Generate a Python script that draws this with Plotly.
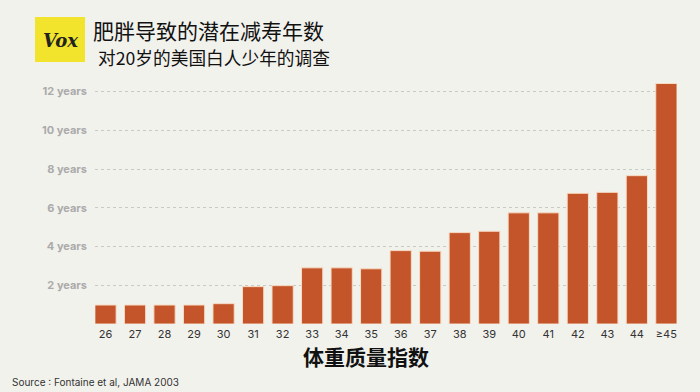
import plotly.graph_objects as go

categories = ["26", "27", "28", "29", "30", "31", "32", "33", "34", "35",
              "36", "37", "38", "39", "40", "41", "42", "43", "44", "≥45"]
years_lost = [0.98, 0.98, 0.98, 0.98, 1.05, 1.93, 1.98, 2.9, 2.9, 2.85,
              3.79, 3.76, 4.72, 4.79, 5.74, 5.74, 6.75, 6.8, 7.66, 12.42]
tick_values = [2, 4, 6, 8, 10, 12]
tick_labels = ["2 years", "4 years", "6 years", "8 years", "10 years", "12 years"]

title_text = "肥胖导致的潜在减寿年数"
subtitle_text = "对20岁的美国白人少年的调查"
xaxis_title = "体重质量指数"
source_text = "Source : Fontaine et al, JAMA 2003"

BG = "#f2f2ed"
BAR = "#c4552a"
W, H = 700, 392
ML, MR, MT, MB = 95, 23, 80, 68

fig = go.Figure()
fig.add_trace(go.Bar(
    x=categories, y=years_lost,
    marker=dict(color=BAR, line=dict(color="#f7dcc4", width=1)),
    width=0.72,
    hoverinfo="x+y",
))

fig.update_layout(
    width=W, height=H,
    margin=dict(l=ML, r=MR, t=MT, b=MB),
    paper_bgcolor=BG, plot_bgcolor=BG,
    showlegend=False,
    font=dict(family="Inter, Roboto, sans-serif"),
    xaxis=dict(
        type="category",
        range=[-0.356, 19.36],
        showgrid=False, zeroline=False, showline=False,
        ticks="", ticklabelstandoff=2,
        tickfont=dict(size=11, color="#333333", family="Inter, sans-serif"),
    ),
    yaxis=dict(
        range=[0, 12.6],
        tickvals=tick_values, ticktext=tick_labels,
        showgrid=True, gridcolor="#cacac5", griddash="dot", gridwidth=1,
        zeroline=False, showline=False, ticks="",
        ticklabelstandoff=7,
        tickfont=dict(size=11, color="#ababab", family="Inter, sans-serif", weight="bold"),
    ),
    shapes=[
        dict(type="rect", xref="paper", yref="paper",
             x0=(35 - ML) / (W - ML - MR), x1=(85 - ML) / (W - ML - MR),
             y0=(H - 62 - MB) / (H - MT - MB), y1=(H - 17 - MB) / (H - MT - MB),
             fillcolor="#f2e42c", line=dict(width=0), layer="above"),
    ],
)

def px_x(p):
    return (p - ML) / (W - ML - MR)

def px_y(p):
    return (H - p - MB) / (H - MT - MB)

annotations = [
    dict(text="<b><i>Vox</i></b>", x=px_x(60), y=px_y(40), xanchor="center", yanchor="middle",
         font=dict(family="DejaVu Serif, serif", size=18, color="#222222")),
    dict(text=title_text, x=px_x(91), y=px_y(30), xanchor="left", yanchor="middle",
         font=dict(family="Noto Sans CJK SC", size=21, color="#111111")),
    dict(text=subtitle_text, x=px_x(96), y=px_y(57), xanchor="left", yanchor="middle",
         font=dict(family="Noto Sans CJK SC", size=17.7, color="#111111")),
    dict(text=xaxis_title, x=px_x(366), y=px_y(356), xanchor="center", yanchor="middle",
         font=dict(family="Noto Sans CJK SC", size=21, color="#111111", weight="bold")),
    dict(text=source_text, x=px_x(10), y=px_y(382), xanchor="left", yanchor="middle",
         font=dict(family="Inter, sans-serif", size=10, color="#333333")),
]
for a in annotations:
    a.update(xref="paper", yref="paper", showarrow=False)
fig.update_layout(annotations=annotations)

fig.write_html(
    "out.html",
    config={"displayModeBar": False},
    post_script="document.body.style.margin='0';document.body.style.background='%s';" % BG,
)
